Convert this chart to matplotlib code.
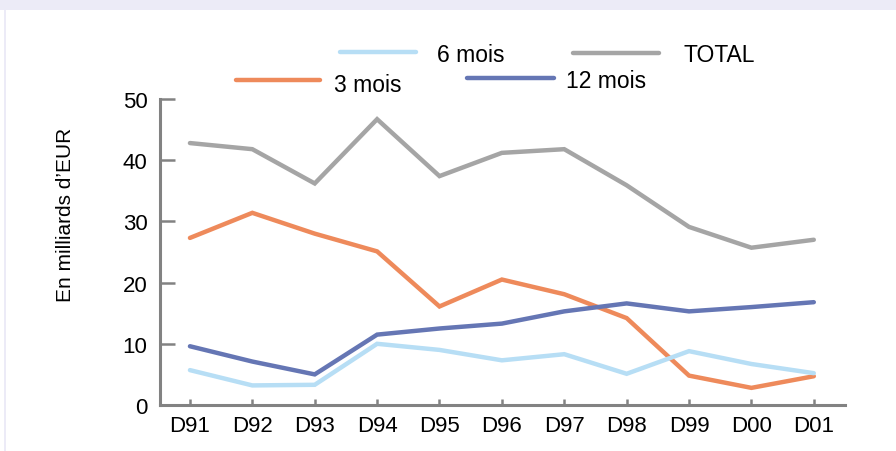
import matplotlib
matplotlib.use("Agg")
import matplotlib.pyplot as plt
from matplotlib.patches import Rectangle
from matplotlib.lines import Line2D

plt.rcParams['font.family'] = ['Liberation Sans', 'DejaVu Sans']

categories = ["D91", "D92", "D93", "D94", "D95", "D96", "D97", "D98", "D99", "D00", "D01"]
m3 = [27.3, 31.4, 28.0, 25.1, 16.1, 20.5, 18.1, 14.2, 4.8, 2.8, 4.7]
m6 = [5.7, 3.2, 3.3, 10.0, 9.0, 7.3, 8.3, 5.1, 8.8, 6.7, 5.2]
m12 = [9.6, 7.1, 5.0, 11.5, 12.5, 13.3, 15.3, 16.6, 15.3, 16.0, 16.8]
total = [42.8, 41.8, 36.2, 46.7, 37.4, 41.2, 41.8, 35.9, 29.1, 25.7, 27.0]
yticks = [0, 10, 20, 30, 40, 50]

c3 = "#EE8A5B"
c6 = "#B7DEF5"
c12 = "#6576B4"
ctot = "#A5A5A5"
axis_col = "#828282"

W, H = 896, 452
fig = plt.figure(figsize=(W / 100, H / 100), dpi=100)
fig.patch.set_facecolor("white")

# background decorations
fig.add_artist(Rectangle((0, 1 - 11 / H), 1, 11 / H, transform=fig.transFigure,
                         facecolor="#ECEBF7", edgecolor="none", zorder=0))
fig.add_artist(Rectangle((4 / W, 0), 2 / W, 1 - 11 / H, transform=fig.transFigure,
                         facecolor="#ECEBF7", edgecolor="none", zorder=0))

ax = fig.add_axes([160 / W, 1 - 406 / H, (845 - 160) / W, (406 - 100) / H])
ax.set_facecolor("none")
x = list(range(len(categories)))
lw = 3.2
ax.plot(x, total, color=ctot, lw=lw, solid_capstyle="round", solid_joinstyle="miter")
ax.plot(x, m3, color=c3, lw=lw, solid_capstyle="round", solid_joinstyle="miter")
ax.plot(x, m12, color=c12, lw=lw, solid_capstyle="round", solid_joinstyle="miter")
ax.plot(x, m6, color=c6, lw=lw, solid_capstyle="round", solid_joinstyle="miter")

ax.set_xlim(-0.48, 10.5)
ax.set_ylim(0, 50)
ax.set_xticks(x)
ax.set_xticklabels(categories, fontsize=16)
ax.set_yticks(yticks)
ax.set_yticklabels([str(v) for v in yticks], fontsize=16)
for s in ["top", "right"]:
    ax.spines[s].set_visible(False)
for s in ["left", "bottom"]:
    ax.spines[s].set_color(axis_col)
    ax.spines[s].set_linewidth(2.2)
ax.tick_params(axis="y", direction="in", length=11, width=1.8, color=axis_col, pad=9)
ax.tick_params(axis="x", direction="in", length=4.5, width=1.8, color=axis_col, pad=7)

fig.text(65 / W, 1 - 215 / H, "En milliards d\u2019EUR", rotation=90, fontsize=15,
         ha="center", va="center")

# custom legend
def leg(x0, x1, yl, tx, ty, label, col):
    fig.add_artist(Line2D([x0 / W, x1 / W], [1 - yl / H, 1 - yl / H], transform=fig.transFigure,
                          color=col, lw=lw, solid_capstyle="round"))
    fig.text(tx / W, 1 - ty / H, label, fontsize=16.5, ha="left", va="center")

leg(340, 416, 53, 437, 56, "6 mois", c6)
leg(573, 659, 54, 683, 56, "TOTAL", ctot)
leg(236, 320, 81, 334, 86, "3 mois", c3)
leg(467, 554, 79, 566, 81, "12 mois", c12)

fig.savefig("out.png", dpi=100)
